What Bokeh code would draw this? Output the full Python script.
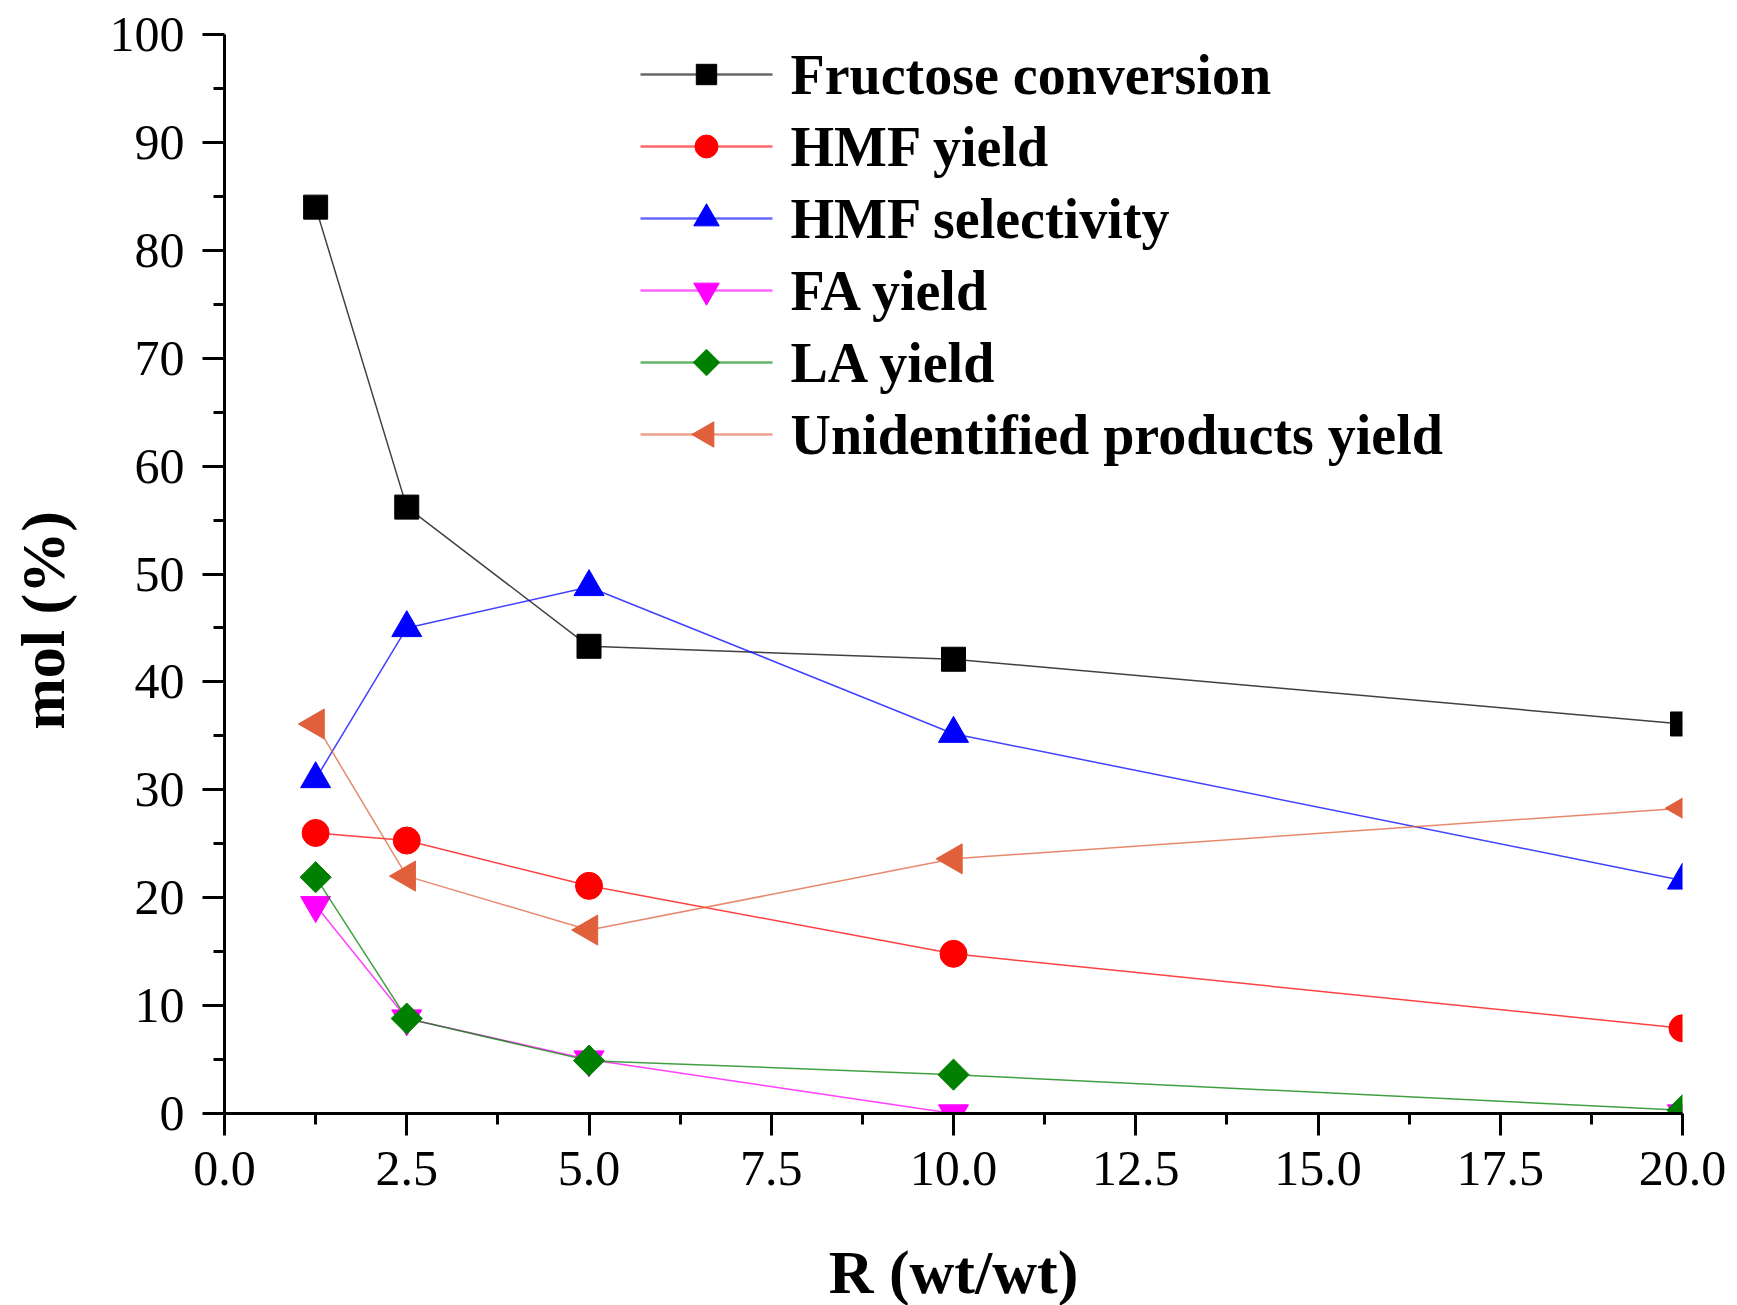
import math
from bokeh.plotting import figure
from bokeh.models import Range1d, PrintfTickFormatter, FixedTicker
from bokeh.core.properties import value
from bokeh.embed import file_html
from bokeh.resources import INLINE

# ---- data ----
r_values = [1.25, 2.5, 5.0, 10.0, 20.0]
fructose_conversion = [84.0, 56.2, 43.3, 42.1, 36.1]
hmf_yield = [26.0, 25.3, 21.1, 14.8, 7.9]
hmf_selectivity = [31.0, 45.0, 48.8, 35.2, 21.6]
fa_yield = [19.3, 8.8, 5.0, 0.0, 0.0]
la_yield = [21.9, 8.8, 4.9, 3.6, 0.3]
unidentified_yield = [36.1, 22.0, 17.0, 23.6, 28.3]

series_names = ["Fructose conversion", "HMF yield", "HMF selectivity",
                "FA yield", "LA yield", "Unidentified products yield"]
x_ticks = [0, 2.5, 5, 7.5, 10, 12.5, 15, 17.5, 20]
y_ticks = [0, 10, 20, 30, 40, 50, 60, 70, 80, 90, 100]
x_label = "R (wt/wt)"
y_label = "mol (%)"

FONT = "Liberation Serif"
FW, FH = 1458, 1079

p = figure(frame_width=FW, frame_height=FH,
           min_border_left=224, min_border_top=34, min_border_right=55, min_border_bottom=192,
           x_range=Range1d(0, 20), y_range=Range1d(0, 100),
           output_backend="svg", toolbar_location=None, tools="")
p.extra_x_ranges = {"lg": Range1d(0, FW)}
p.extra_y_ranges = {"lg": Range1d(0, FH)}
p.outline_line_color = None
p.xgrid.visible = False
p.ygrid.visible = False
p.background_fill_color = "white"
p.border_fill_color = "white"

# (values, colour, marker, size, angle)
series = [
    (fructose_conversion, "black", "square", 24, 0.0),
    (hmf_yield, "#FF0000", "circle", 27, 0.0),
    (hmf_selectivity, "#0000FF", "triangle", 30, 0.0),
    (fa_yield, "#FF00FF", "inverted_triangle", 30, 0.0),
    (la_yield, "#008000", "square", 22, math.pi / 4),
    (unidentified_yield, "#E0603C", "triangle", 30, math.pi / 2),
]

for vals, color, marker, size, ang in series:
    p.line(r_values, vals, line_color=color, line_width=1.5, line_alpha=0.75)
    p.scatter(r_values, vals, marker=marker, size=size, angle=ang,
              fill_color=color, line_color=color)

# ---- legend (drawn in frame pixel coordinates) ----
lg_line_x0, lg_line_x1, lg_text_x = 416, 548, 566
lg_top, lg_pitch = 1039, 72
for i, ((vals, color, marker, size, ang), name) in enumerate(zip(series, series_names)):
    yy = lg_top - i * lg_pitch
    p.segment(x0=[lg_line_x0], y0=[yy], x1=[lg_line_x1], y1=[yy],
              line_color=color, line_width=2.5, line_alpha=0.6,
              x_range_name="lg", y_range_name="lg")
    p.scatter(x=[(lg_line_x0 + lg_line_x1) / 2], y=[yy], marker=marker,
              size=size * 0.85, angle=ang, fill_color=color, line_color=color,
              x_range_name="lg", y_range_name="lg")
    p.text(x=[lg_text_x], y=[yy], text=[name], text_font=value(FONT),
           text_font_style="bold", text_font_size="56px", text_color="black",
           text_baseline="middle", text_align="left",
           x_range_name="lg", y_range_name="lg")

for ax in (p.xaxis[0], p.yaxis[0]):
    ax.axis_line_width = 3
    ax.major_tick_line_width = 3
    ax.minor_tick_line_width = 3
    ax.major_tick_in = 0
    ax.major_tick_out = 22
    ax.minor_tick_in = 0
    ax.minor_tick_out = 11
    ax.major_label_text_font = FONT
    ax.major_label_text_font_size = "50px"
    ax.major_label_text_color = "black"
    ax.axis_label_text_font = FONT
    ax.axis_label_text_font_style = "bold"
    ax.axis_label_text_font_size = "62px"
    ax.axis_label_text_color = "black"

p.xaxis.ticker = FixedTicker(ticks=x_ticks, minor_ticks=[1.25 + 2.5 * i for i in range(8)])
p.xaxis.formatter = PrintfTickFormatter(format="%.1f")
p.yaxis.ticker = FixedTicker(ticks=y_ticks, minor_ticks=[5 + 10 * i for i in range(10)])
p.xaxis.axis_label = x_label
# trailing no-break spaces push the vertical title a little below the axis centre
p.yaxis.axis_label = y_label + "\u00a0" * 6
p.xaxis.major_label_standoff = 16
p.yaxis.major_label_standoff = 18
p.xaxis.axis_label_standoff = 50
p.yaxis.axis_label_standoff = 30

open("out.html", "w").write(file_html(p, INLINE))
